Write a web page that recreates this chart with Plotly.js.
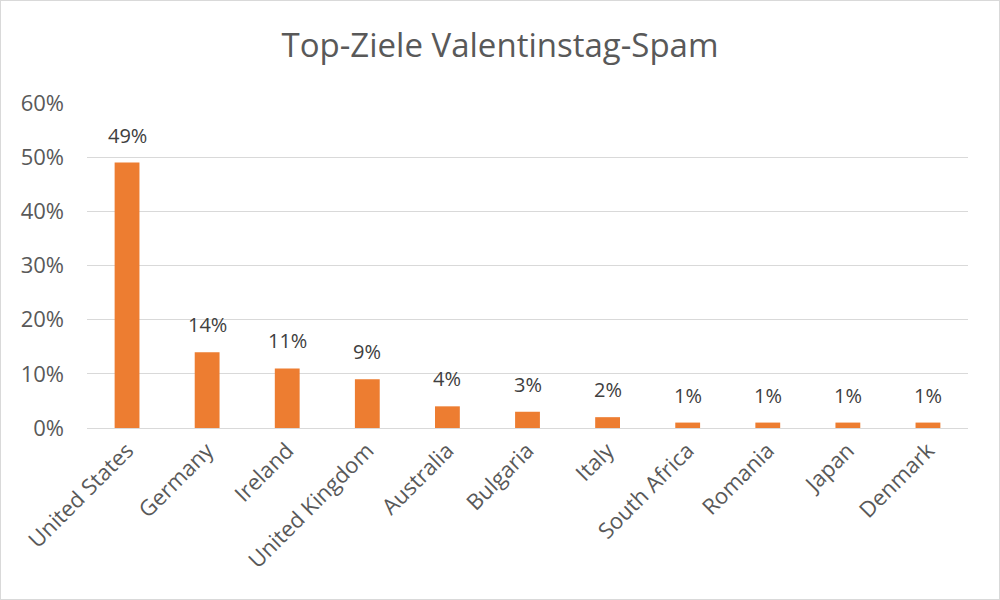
<!DOCTYPE html>
<html>
<head>
<meta charset="utf-8">
<script src="https://cdn.plot.ly/plotly-3.0.1.min.js"></script>
<style>
  html, body { margin:0; padding:0; background:#fff; }
  #chart { width:998px; height:598px; border:1px solid #d9d9d9; }
</style>
</head>
<body>
<div id="chart"></div>
<script>
/* ==========================================
   DATA
========================================== */

const countries = ["United States", "Germany", "Ireland", "United Kingdom", "Australia",
                   "Bulgaria", "Italy", "South Africa", "Romania", "Japan", "Denmark"];

const shares = [0.49, 0.14, 0.11, 0.09, 0.04, 0.03, 0.02, 0.01, 0.01, 0.01, 0.01];

const yTicks = [0, 0.1, 0.2, 0.3, 0.4, 0.5, 0.6];


/* ==========================================
   DATA LABELS (one per bar, above it)
========================================== */

const labels = countries.map((c, i) => {
    return {
        x:c,
        y:shares[i],
        xref:"x",
        yref:"y",
        text:Math.round(shares[i] * 100) + "%",
        showarrow:false,
        yanchor:"bottom",
        yshift:12,
        font:{ family:"Open Sans", size:20, color:"#404040" }
    };
});


/* ==========================================
   CHART
========================================== */

Plotly.newPlot(
    "chart",
    [
        {
            type:"bar",
            x:countries,
            y:shares,
            marker:{ color:"#ED7D31" },
            hoverinfo:"x+y"
        }
    ],
    {
        title:{
            text:"Top-Ziele Valentinstag-Spam",
            font:{ family:"Open Sans", size:33, color:"#595959" },
            x:0.5,
            y:0.925,
            yanchor:"middle"
        },
        font:{ family:"Open Sans", color:"#595959" },
        paper_bgcolor:"#ffffff",
        plot_bgcolor:"#ffffff",
        showlegend:false,
        bargap:0.69,
        margin:{ l:86, r:31, t:102, b:171 },
        annotations:labels,
        xaxis:{
            tickangle:-45,
            tickfont:{ size:22, color:"#595959" },
            showline:true,
            linecolor:"#d9d9d9",
            linewidth:1,
            ticks:""
        },
        yaxis:{
            range:[0, 0.6],
            tickvals:yTicks,
            tickformat:".0%",
            tickfont:{ size:22, color:"#595959" },
            gridcolor:"#d9d9d9",
            gridwidth:1,
            zeroline:false,
            showline:false,
            ticklabelstandoff:22
        }
    },
    {
        displayModeBar:false
    }
);
</script>
</body>
</html>
